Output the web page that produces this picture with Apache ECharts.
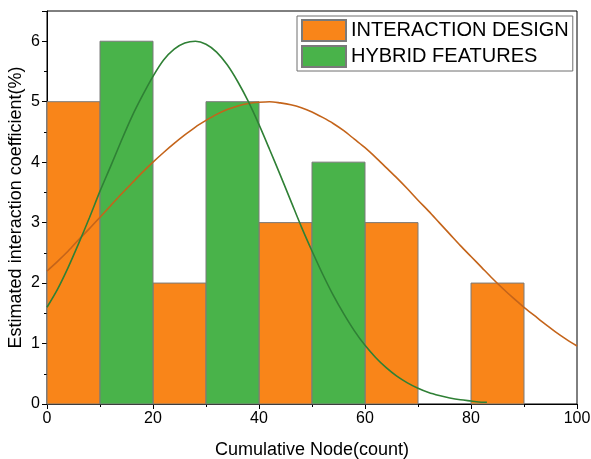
<!DOCTYPE html>
<html>
<head>
<meta charset="utf-8">
<script src="https://cdn.jsdelivr.net/npm/echarts@6/dist/echarts.min.js"></script>
<style>html,body{margin:0;padding:0;background:#fff}#c{width:591px;height:459px}</style>
</head>
<body>
<div id="c"></div>
<script>
// Histogram bins: INTERACTION DESIGN
const designBinStart = [0, 20, 40, 60, 80];
const designBinEnd   = [10, 30, 50, 70, 90];
const designValues   = [5, 2, 3, 3, 2];
// Histogram bins: HYBRID FEATURES
const hybridBinStart = [10, 30, 50];
const hybridBinEnd   = [20, 40, 60];
const hybridValues   = [6, 5, 4];
// Fitted curve for INTERACTION DESIGN
const designCurveX = [0,2,4,6,8,10,12,14,16,18,20,22,24,26,28,30,32,34,36,38,40,42,44,46,48,50,52,54,56,58,60,62,64,66,68,70,72,74,76,78,80,82,84,86,88,90,92,94,96,98,100];
const designCurveY = [2.20,2.36,2.53,2.72,2.90,3.09,3.28,3.47,3.65,3.83,4.00,4.16,4.31,4.45,4.58,4.69,4.79,4.87,4.93,4.97,4.99,5.00,4.98,4.95,4.90,4.83,4.74,4.64,4.52,4.38,4.24,4.08,3.91,3.74,3.56,3.37,3.19,3.00,2.81,2.62,2.44,2.26,2.08,1.91,1.75,1.60,1.46,1.32,1.19,1.07,0.96];
// Fitted curve for HYBRID FEATURES
const hybridCurveX = [0,2,4,6,8,10,12,14,16,18,20,22,24,26,28,30,32,34,36,38,40,42,44,46,48,50,52,54,56,58,60,62,64,66,68,70,72,74,76,78,80,82,83];
const hybridCurveY = [1.60,1.90,2.26,2.66,3.08,3.52,3.93,4.35,4.75,5.10,5.42,5.69,5.87,5.97,6.00,5.95,5.82,5.61,5.33,5.00,4.62,4.21,3.79,3.36,2.93,2.53,2.15,1.80,1.49,1.21,0.97,0.77,0.60,0.46,0.35,0.26,0.19,0.14,0.10,0.07,0.05,0.03,0.03];

const seriesNames = ['INTERACTION DESIGN', 'HYBRID FEATURES'];

function zip3(a, b, c) { return a.map((v, i) => [v, b[i], c[i]]); }
function zip2(a, b) { return a.map((v, i) => [v, b[i]]); }

function renderBin(params, api) {
  const x0 = api.value(0), x1 = api.value(1), v = api.value(2);
  const pTop = api.coord([x0, v]);
  const pBot = api.coord([x1, 0]);
  return {
    type: 'rect',
    shape: { x: pTop[0], y: pTop[1], width: pBot[0] - pTop[0], height: pBot[1] - pTop[1] },
    style: { fill: api.visual('color'), stroke: '#7a7a7a', lineWidth: 1 }
  };
}

const FONT = '"Liberation Sans", Arial, sans-serif';
const chart = echarts.init(document.getElementById('c'), null, { renderer: 'canvas' });
chart.setOption({
  animation: false,
  backgroundColor: '#fff',
  grid: { left: 47, right: 14, top: 11, bottom: 55, containLabel: false, outerBoundsMode: 'none',
    show: true, borderColor: '#000', borderWidth: 1, backgroundColor: 'transparent' },
  legend: {
    data: seriesNames,
    left: 297, top: 16,
    orient: 'vertical',
    padding: [3, 4, 3, 4],
    borderColor: '#6e6e6e', borderWidth: 1,
    itemWidth: 44, itemHeight: 21, itemGap: 3,
    icon: 'rect',
    textStyle: { fontSize: 20, fontFamily: FONT, color: '#000' }
  },
  xAxis: {
    type: 'value', min: 0, max: 100, interval: 20,
    name: 'Cumulative Node(count)', nameLocation: 'middle', nameGap: 37, nameMoveOverlap: false,
    nameTextStyle: { fontSize: 18, fontFamily: FONT, color: '#000' },
    axisLine: { show: true, onZero: false, lineStyle: { color: '#000', width: 1 } },
    axisTick: { show: true, length: 5, lineStyle: { color: '#000' } },
    minorTick: { show: true, splitNumber: 2, length: 3, lineStyle: { color: '#000' } },
    axisLabel: { fontSize: 16, fontFamily: FONT, color: '#000', margin: 7 },
    splitLine: { show: false }
  },
  yAxis: {
    type: 'value', min: 0, max: 6.5, interval: 1,
    name: 'Estimated interaction coefficient(%)', nameLocation: 'middle', nameGap: 22, nameMoveOverlap: false,
    nameTextStyle: { fontSize: 18, fontFamily: FONT, color: '#000' },
    axisLine: { show: true, onZero: false, lineStyle: { color: '#000', width: 1 } },
    axisTick: { show: true, length: 5, lineStyle: { color: '#000' } },
    minorTick: { show: true, splitNumber: 2, length: 3, lineStyle: { color: '#000' } },
    axisLabel: { fontSize: 16, fontFamily: FONT, color: '#000', margin: 7,
      formatter: v => (Number.isInteger(v) ? String(v) : '') },
    splitLine: { show: false }
  },
  series: [
    {
      name: seriesNames[0], type: 'custom', renderItem: renderBin,
      itemStyle: { color: '#F98519', borderColor: '#7a7a7a', borderWidth: 1 },
      encode: { x: [0, 1], y: 2 },
      data: zip3(designBinStart, designBinEnd, designValues), z: 2
    },
    {
      name: seriesNames[1], type: 'custom', renderItem: renderBin,
      itemStyle: { color: '#49B34A', borderColor: '#7a7a7a', borderWidth: 1 },
      encode: { x: [0, 1], y: 2 },
      data: zip3(hybridBinStart, hybridBinEnd, hybridValues), z: 2
    },
    {
      name: 'designFit', type: 'line', smooth: 0.3, showSymbol: false,
      lineStyle: { color: '#C4641A', width: 1.6 }, itemStyle: { color: '#C4641A' },
      data: zip2(designCurveX, designCurveY), z: 4
    },
    {
      name: 'hybridFit', type: 'line', smooth: 0.3, showSymbol: false,
      lineStyle: { color: '#2F8035', width: 1.6 }, itemStyle: { color: '#2F8035' },
      data: zip2(hybridCurveX, hybridCurveY), z: 5
    }
  ]
});
</script>
</body>
</html>
